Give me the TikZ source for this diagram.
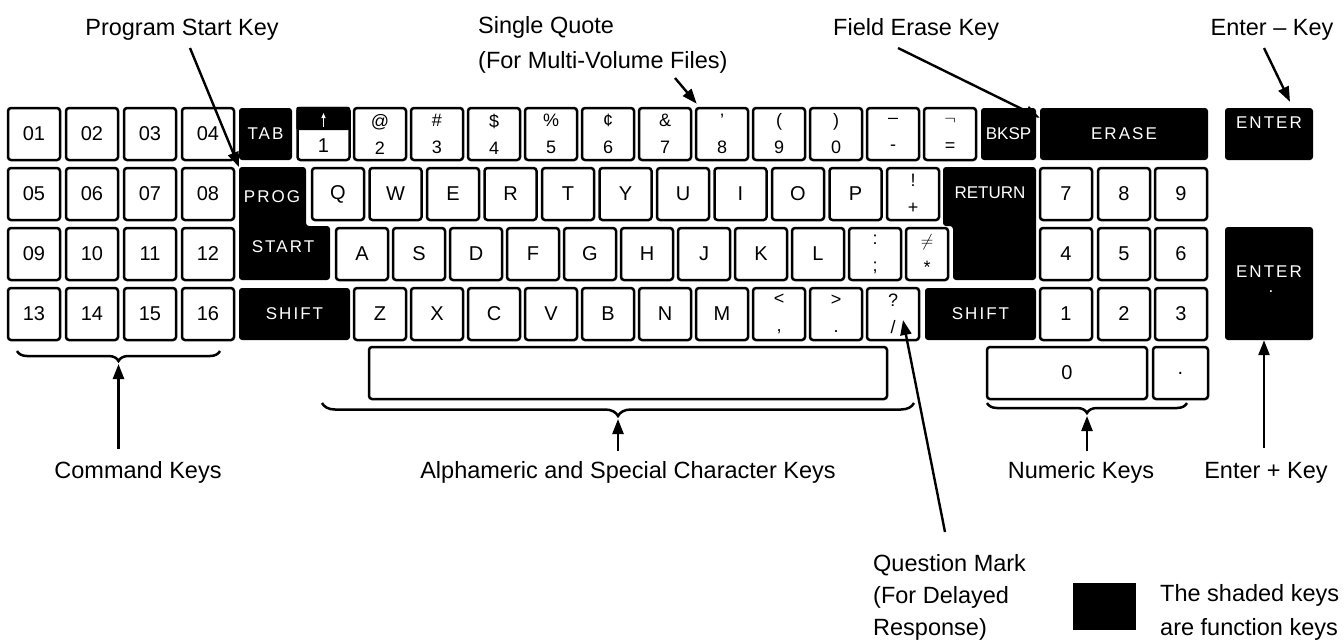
\documentclass[tikz,border=0pt]{standalone}
\usepackage{fontspec}
\setmainfont{Liberation Sans}
\usetikzlibrary{arrows.meta, calc, decorations.pathreplacing}

\newcommand{\lblfont}{\fontsize{23.5}{32}\selectfont}
\newcommand{\keyfont}{\fontsize{20}{24}\selectfont}
\newcommand{\symfont}{\fontsize{18}{27}\selectfont}
\newcommand{\fnfont}{\fontsize{17}{20}\selectfont\addfontfeature{LetterSpace=12}}

\begin{document}
\begin{tikzpicture}[
    x=1pt, y=-1pt,
    key/.style={draw, line width=2.5pt, rounded corners=3pt, minimum width=52pt,
                minimum height=52pt, inner sep=0pt, font=\keyfont},
    dkey/.style={key, font=\symfont, align=center},
    fkey/.style={fill=black, rounded corners=3pt, text=white, inner sep=0pt, font=\fnfont},
    fntxt/.style={text=white, inner sep=0pt, font=\fnfont},
    ptr/.style={-{Triangle[length=15pt, width=11pt]}, line width=2.4pt},
    lbl/.style={font=\lblfont, inner sep=0pt, align=left, anchor=base},
    cbrace/.style={decorate, decoration={brace, mirror, amplitude=#1}, line width=2.5pt},
  ]

  % Background
  \useasboundingbox (0,0) rectangle (1344,640);
  \fill[white] (0,0) rectangle (1344,640);

  % --- Command keys ---
  \foreach \r in {0,...,3}
    \foreach \c in {0,...,3}{
      \pgfmathtruncatemacro{\n}{4*\r+\c+1}
      \node[key] (c\n) at (34+58*\c, 134+60*\r) {\ifnum\n<10 0\fi\n};
    }

  % --- Top row ---
  \node[fkey, minimum width=53pt, minimum height=52pt] (tab) at (265.5,134) {TAB};
  \node[key] (k1) at (323.5,134) {};
  \fill[rounded corners=2pt] (k1.north west) rectangle (350,130);
  \draw[white, line width=1.2pt, -{Triangle[length=5pt, width=4pt]}] (323.5,127) -- (323.5,113);
  \node[font=\keyfont, inner sep=0pt] (k1txt) at (323.5,146) {1};
  \foreach \u/\d [count=\i from 0] in {@/2, \#/3, \$/4, \%/5, ¢/6, \&/7, '/8, {(}/9, {)}/0, –/-, $\neg$/=}
    \node[dkey] (t\i) at (380+57*\i,134) {\u\\\d};
  \node[fkey, font=\fontsize{17}{20}\selectfont, minimum width=55pt, minimum height=52pt] (bksp) at (1008.5,134) {BKSP};
  \node[fkey, minimum width=168pt, minimum height=52pt] (erase) at (1124,134) {ERASE};
  \node[fkey, minimum width=88pt, minimum height=52pt] (entert) at (1269,134) {};
  \node[fntxt] (entertxt) at (1269,123) {ENTER};

  % --- Second and third rows ---
  \fill[rounded corners=3pt] (239,167) -- (306,167) -- (306,226) -- (330,226)
    -- (330,280) -- (239,280) -- cycle;
  \coordinate (progkey) at (239,167);
  \node[fntxt] (prog) at (272,197) {PROG};
  \node[fntxt] (start) at (283,247) {START};
  \foreach \ch [count=\i from 0] in {Q,W,E,R,T,Y,U,I,O,P}
    \node[key] (q\i) at (338+57.5*\i,194) {\ch};
  \node[dkey] (excl) at (913,194) {!\\+};
  \fill[rounded corners=3pt] (943,167) -- (1036,167) -- (1036,280) -- (953,280)
    -- (953,226) -- (943,226) -- cycle;
  \node[fntxt, font=\fontsize{17}{20}\selectfont] (return) at (990,193) {RETURN};

  \foreach \ch [count=\i from 0] in {A,S,D,F,G,H,J,K,L}
    \node[key] (a\i) at (362+57*\i,254) {\ch};
  \node[dkey] (colon) at (875,254) {:\\;};
  \node[dkey, minimum width=42pt] (neq) at (927,254) {$\neq$\\*};

  % --- Numeric pad ---
  \foreach \y/\a/\b/\c in {194/7/8/9, 254/4/5/6, 314/1/2/3}{
    \node[key] (n\a) at (1066,\y) {\a};
    \node[key] (n\b) at (1124,\y) {\b};
    \node[key] (n\c) at (1181,\y) {\c};
  }
  \node[fkey, minimum width=88pt, minimum height=113pt] (enterb) at (1269,283.5) {};
  \node[fntxt] (enterbtxt) at (1269,272) {ENTER};
  \node[fntxt] (enterbdot) at (1271,292) {.};

  % --- Fourth row ---
  \node[fkey, minimum width=111pt, minimum height=52pt] (lshift) at (294.5,314) {SHIFT};
  \foreach \ch [count=\i from 0] in {Z,X,C,V,B,N,M}
    \node[key] (z\i) at (380+57*\i,314) {\ch};
  \node[dkey] (lt) at (779,314) {<\\,};
  \node[dkey] (gt) at (836,314) {>\\.};
  \node[dkey] (qmark) at (893,314) {?\\/};
  \node[fkey, minimum width=111pt, minimum height=52pt] (rshift) at (980.5,314) {SHIFT};

  % --- Bottom row ---
  \node[key, minimum width=518pt] (space) at (628,373) {};
  \node[key, minimum width=160pt] (zero) at (1067,373) {0};
  \node[key, minimum width=55pt] (dot) at (1180.5,373) {.};

  % --- Braces ---
  \draw[cbrace=10pt] (17,351) -- (220,351);
  \coordinate (cmdtip) at (118.5,364);
  \draw[cbrace=13pt] (322,403) -- (914,403);
  \coordinate (alphatip) at (618,419);
  \draw[cbrace=10pt] (987,403) -- (1187,403);
  \coordinate (numtip) at (1087,416);

  % --- Labels ---
  \node[lbl] (pslbl) at (182,35) {Program Start Key};
  \node[lbl, anchor=base west, font=\fontsize{23.5}{35}\selectfont] (sqlbl) at (478,68.5) {Single Quote\\(For Multi-Volume Files)};
  \node[lbl, anchor=base west] (felbl) at (833,35) {Field Erase Key};
  \node[lbl] (enlbl) at (1272,35) {Enter – Key};
  \node[lbl] (cmdlbl) at (138,478.5) {Command Keys};
  \node[lbl] (alphalbl) at (628,478.5) {Alphameric and Special Character Keys};
  \node[lbl] (numlbl) at (1081,478.5) {Numeric Keys};
  \node[lbl] (eplbl) at (1266,478.5) {Enter + Key};
  \node[lbl, anchor=base west] (qmlbl) at (873,635.5) {Question Mark\\(For Delayed\\Response)};
  \fill (1073,583) rectangle (1136,630);
  \node[lbl, anchor=base west, font=\fontsize{23.5}{34}\selectfont] (fklbl) at (1160,635.5) {The shaded keys\\are function keys};
  \coordinate (pstail) at (190,48);
  \coordinate (sqtail) at (675,78);
  \coordinate (fetail) at (898,48);
  \coordinate (entail) at (1264,48);
  \coordinate (eptail) at (1264,448);
  \coordinate (qmtail) at (945,532);

  % --- Pointers ---
  \draw[ptr] (pstail) -- (progkey);
  \draw[ptr] (sqtail) -- ($(t6.north west)+(2,-3)$);
  \draw[ptr] (fetail) -- ($(erase.north west)+(0,10)$);
  \draw[ptr] (entail) -- ($(entert.north)+(21,-6)$);
  \draw[ptr] ([yshift=12pt]cmdlbl.north -| cmdtip) -- (cmdtip);
  \draw[ptr] ([yshift=10pt]alphalbl.north -| alphatip) -- (alphatip);
  \draw[ptr] ([yshift=10pt]numlbl.north -| numtip) -- (numtip);
  \draw[ptr] (eptail) -- (eptail |- enterb.south);
  \draw[ptr] (qmtail) -- ($(qmark.center)+(10,6)$);

\end{tikzpicture}
\end{document}
